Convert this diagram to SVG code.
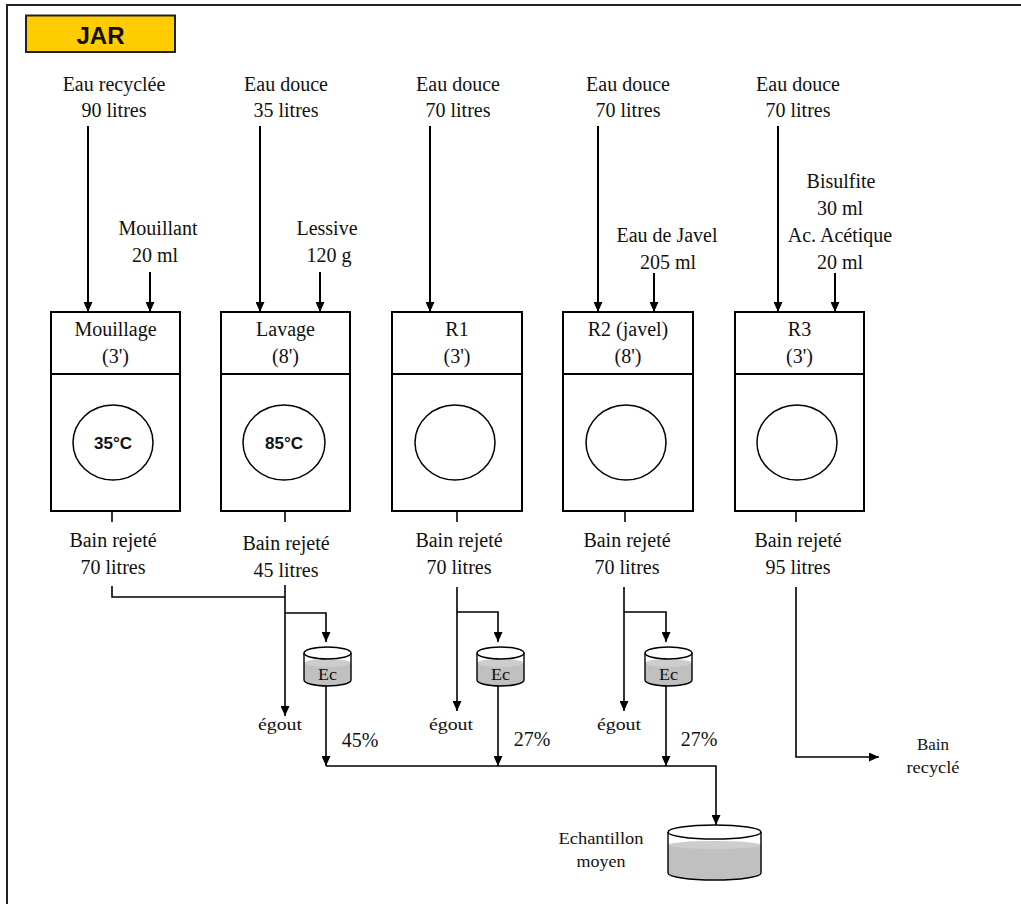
<svg xmlns="http://www.w3.org/2000/svg" width="1021" height="904" viewBox="0 0 1021 904">
<defs>
<marker id="ah" markerUnits="userSpaceOnUse" markerWidth="10" markerHeight="9" refX="10" refY="4.5" orient="auto">
<path d="M0,0 L10,4.5 L0,9 z" fill="#000"/>
</marker>
<style>
.t{font-family:"Liberation Serif","Times New Roman",serif;font-size:20px;fill:#111;text-anchor:middle}
.s{font-family:"Liberation Serif","Times New Roman",serif;font-size:16px;fill:#111;text-anchor:middle}
.b{font-family:"Liberation Sans",Arial,sans-serif;font-weight:bold;fill:#111;text-anchor:middle}
.box{fill:#fff;stroke:#000;stroke-width:2}
.circ{fill:#fff;stroke:#000;stroke-width:1.5}
.ar{fill:none;stroke:#000;stroke-width:2;marker-end:url(#ah)}
.ln{fill:none;stroke:#000;stroke-width:1.6}
.lna{fill:none;stroke:#000;stroke-width:1.6;marker-end:url(#ah)}
.liq{fill:#C0C0C0}
.liqtop{fill:#CDCDCD}
.cyl{fill:none;stroke:#000;stroke-width:1.4}
</style>
</defs>
<rect x="7" y="5" width="1030" height="910" fill="#fff" stroke="#222" stroke-width="2"/>

<g id="title">
<rect x="26" y="15.5" width="149" height="36.5" fill="#FFCC00" stroke="#222" stroke-width="2"/>
<text class="b" x="100.5" y="44" font-size="24">JAR</text>
</g>

<g id="inputs">
<text class="t" x="114" y="91">Eau recyclée</text>
<text class="t" x="114" y="117">90 litres</text>
<text class="t" x="286" y="91">Eau douce</text>
<text class="t" x="286" y="117">35 litres</text>
<text class="t" x="458" y="91">Eau douce</text>
<text class="t" x="458" y="117">70 litres</text>
<text class="t" x="628" y="91">Eau douce</text>
<text class="t" x="628" y="117">70 litres</text>
<text class="t" x="798" y="91">Eau douce</text>
<text class="t" x="798" y="117">70 litres</text>
<text class="t" x="158" y="235">Mouillant</text>
<text class="t" x="155" y="262">20 ml</text>
<text class="t" x="327" y="235">Lessive</text>
<text class="t" x="329" y="262">120 g</text>
<text class="t" x="667" y="242">Eau de Javel</text>
<text class="t" x="668" y="269">205 ml</text>
<text class="t" x="841" y="188">Bisulfite</text>
<text class="t" x="840" y="215">30 ml</text>
<text class="t" x="840" y="242">Ac. Acétique</text>
<text class="t" x="840" y="269">20 ml</text>
</g>

<g id="mouillage">
<rect class="box" x="51" y="312" width="129" height="62"/>
<rect class="box" x="51" y="374" width="129" height="137"/>
<text class="t" x="115.5" y="336">Mouillage</text>
<text class="t" x="115.5" y="363">(3')</text>
<ellipse class="circ" cx="113" cy="442.5" rx="40" ry="37.5"/>
<text class="b" x="113" y="448.5" font-size="17">35°C</text>
<text class="t" x="113" y="547">Bain rejeté</text>
<text class="t" x="113" y="574">70 litres</text>
</g>

<g id="lavage">
<rect class="box" x="221" y="312" width="129" height="62"/>
<rect class="box" x="221" y="374" width="129" height="137"/>
<text class="t" x="285.5" y="336">Lavage</text>
<text class="t" x="285.5" y="363">(8')</text>
<ellipse class="circ" cx="284" cy="442.5" rx="41" ry="37.5"/>
<text class="b" x="284" y="448.5" font-size="17">85°C</text>
<text class="t" x="286" y="550">Bain rejeté</text>
<text class="t" x="286" y="577">45 litres</text>
</g>

<g id="r1">
<rect class="box" x="392" y="312" width="130" height="62"/>
<rect class="box" x="392" y="374" width="130" height="137"/>
<text class="t" x="457" y="336">R1</text>
<text class="t" x="457" y="363">(3')</text>
<ellipse class="circ" cx="455" cy="442.5" rx="40" ry="37.5"/>
<text class="t" x="459" y="547">Bain rejeté</text>
<text class="t" x="459" y="574">70 litres</text>
</g>

<g id="r2">
<rect class="box" x="563" y="312" width="130" height="62"/>
<rect class="box" x="563" y="374" width="130" height="137"/>
<text class="t" x="628" y="336">R2 (javel)</text>
<text class="t" x="628" y="363">(8')</text>
<ellipse class="circ" cx="626" cy="442.5" rx="40" ry="37.5"/>
<text class="t" x="627" y="547">Bain rejeté</text>
<text class="t" x="627" y="574">70 litres</text>
</g>

<g id="r3">
<rect class="box" x="735" y="312" width="129" height="62"/>
<rect class="box" x="735" y="374" width="129" height="137"/>
<text class="t" x="799.5" y="336">R3</text>
<text class="t" x="799.5" y="363">(3')</text>
<ellipse class="circ" cx="797" cy="442.5" rx="40" ry="37.5"/>
<text class="t" x="798" y="547">Bain rejeté</text>
<text class="t" x="798" y="574">95 litres</text>
</g>

<g id="ec1">
<path class="liq" d="M304,663 L351,663 L351,680 A23.5,6 0 0 1 304,680 Z"/>
<ellipse class="liqtop" cx="327.5" cy="663" rx="23.5" ry="4"/>
<ellipse class="cyl" cx="327.5" cy="653" rx="23.5" ry="6"/>
<path class="cyl" d="M304,653 L304,680 A23.5,6 0 0 0 351,680 L351,653"/>
<text class="s" x="327.5" y="680" textLength="19" lengthAdjust="spacingAndGlyphs">Ec</text>
</g>
<g id="ec2">
<path class="liq" d="M477,663 L524,663 L524,680 A23.5,6 0 0 1 477,680 Z"/>
<ellipse class="liqtop" cx="500.5" cy="663" rx="23.5" ry="4"/>
<ellipse class="cyl" cx="500.5" cy="653" rx="23.5" ry="6"/>
<path class="cyl" d="M477,653 L477,680 A23.5,6 0 0 0 524,680 L524,653"/>
<text class="s" x="500.5" y="680" textLength="19" lengthAdjust="spacingAndGlyphs">Ec</text>
</g>
<g id="ec3">
<path class="liq" d="M645,663 L692,663 L692,680 A23.5,6 0 0 1 645,680 Z"/>
<ellipse class="liqtop" cx="668.5" cy="663" rx="23.5" ry="4"/>
<ellipse class="cyl" cx="668.5" cy="653" rx="23.5" ry="6"/>
<path class="cyl" d="M645,653 L645,680 A23.5,6 0 0 0 692,680 L692,653"/>
<text class="s" x="668.5" y="680" textLength="19" lengthAdjust="spacingAndGlyphs">Ec</text>
</g>

<g id="echantillon">
<path class="liq" d="M668,845 L761,845 L761,873 A46.5,7 0 0 1 668,873 Z"/>
<ellipse class="liqtop" cx="714.5" cy="845" rx="46.5" ry="4"/>
<ellipse class="cyl" cx="714.5" cy="832" rx="46.5" ry="7"/>
<path class="cyl" d="M668,832 L668,873 A46.5,7 0 0 0 761,873 L761,832"/>
<text class="s" x="601" y="844" textLength="85" lengthAdjust="spacingAndGlyphs">Echantillon</text>
<text class="s" x="601" y="867" textLength="49" lengthAdjust="spacingAndGlyphs">moyen</text>
</g>

<g id="labels">
<text class="s" x="280" y="730" font-size="15" textLength="44" lengthAdjust="spacingAndGlyphs">égout</text>
<text class="s" x="451" y="730" font-size="15" textLength="44" lengthAdjust="spacingAndGlyphs">égout</text>
<text class="s" x="619" y="730" font-size="15" textLength="44" lengthAdjust="spacingAndGlyphs">égout</text>
<text class="t" x="360" y="747" font-size="18">45%</text>
<text class="t" x="532" y="746" font-size="18">27%</text>
<text class="t" x="699" y="746" font-size="18">27%</text>
<text class="s" x="933" y="750" textLength="32" lengthAdjust="spacingAndGlyphs">Bain</text>
<text class="s" x="933" y="773" textLength="53" lengthAdjust="spacingAndGlyphs">recyclé</text>
</g>

<g id="connectors">
<line class="ar" x1="88" y1="126" x2="88" y2="312"/>
<line class="ar" x1="150" y1="272" x2="150" y2="312"/>
<line class="ar" x1="260" y1="126" x2="260" y2="312"/>
<line class="ar" x1="320" y1="272" x2="320" y2="312"/>
<line class="ar" x1="430" y1="126" x2="430" y2="312"/>
<line class="ar" x1="598" y1="126" x2="598" y2="312"/>
<line class="ar" x1="654" y1="273" x2="654" y2="312"/>
<line class="ar" x1="778" y1="126" x2="778" y2="312"/>
<line class="ar" x1="835" y1="273" x2="835" y2="312"/>

<line class="ln" x1="112" y1="511" x2="112" y2="522"/>
<line class="ln" x1="285" y1="511" x2="285" y2="522"/>
<line class="ln" x1="457" y1="511" x2="457" y2="522"/>
<line class="ln" x1="625" y1="511" x2="625" y2="522"/>
<line class="ln" x1="796" y1="511" x2="796" y2="522"/>

<path class="ln" d="M112,586 L112,597 L285,597"/>
<path class="lna" d="M285,585 L285,716"/>
<path class="lna" d="M285,613 L326,613 L326,642"/>
<path class="lna" d="M326,686 L326,766"/>

<path class="lna" d="M457,587 L457,711"/>
<path class="lna" d="M457,612 L498,612 L498,642"/>
<path class="lna" d="M498,686 L498,766"/>

<path class="lna" d="M624,587 L624,711"/>
<path class="lna" d="M624,612 L666,612 L666,642"/>
<path class="lna" d="M666,686 L666,766"/>

<path class="lna" d="M326,766 L716,766 L716,825"/>

<path class="lna" d="M796,587 L796,757 L879,757"/>
</g>
</svg>
